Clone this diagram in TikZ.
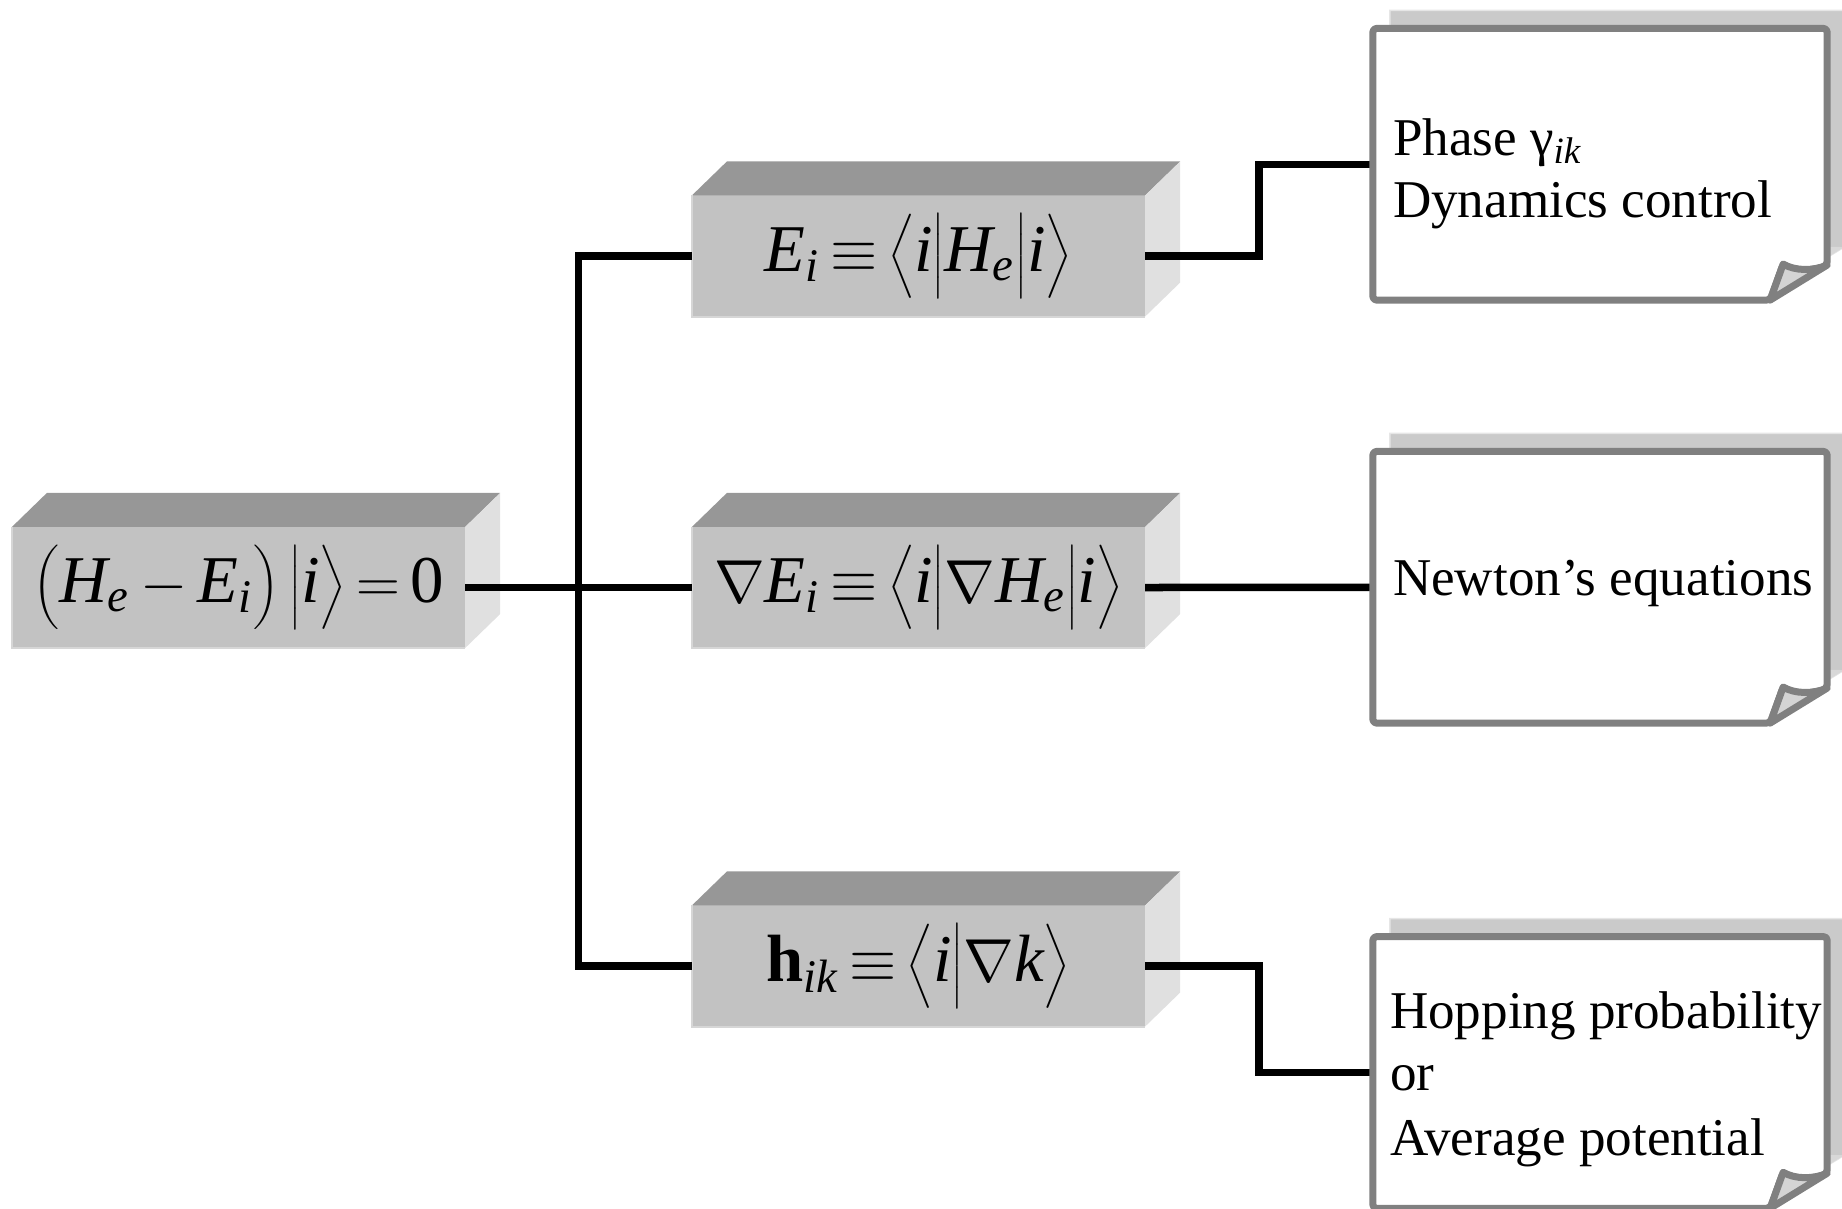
\documentclass[tikz,border=0pt]{standalone}
\usepackage{fontspec}
\setmainfont{Liberation Serif}
\usetikzlibrary{calc}

% italic letters in formulas come from the serif text font
\newcommand\mvar[1]{\mathit{#1}}
% delimiter one size up from the running math size
\newcommand\tall[1]{\hbox{$\left#1\vcenter to 1.25em{}\right.\nulldelimiterspace=0pt$}}
% size and tighter operator spacing for the slab formulas
\newcommand\slabfont{\fontsize{19}{23}\selectfont\thickmuskip=3mu\relax\medmuskip=3mu\relax}

\definecolor{slabfront}{HTML}{C2C2C2}
\definecolor{slabtop}{HTML}{979797}
\definecolor{slabside}{HTML}{E0E0E0}
\definecolor{slabedge}{HTML}{D6D6D6}
\definecolor{sheetline}{HTML}{808080}
\definecolor{backfill}{HTML}{CACACA}
\definecolor{backline}{HTML}{E6E6E6}
\definecolor{flapfill}{HTML}{D4D4D4}

\begin{document}
\begin{tikzpicture}[x=0.01cm, y=-0.01cm,
  slab/.style={rectangle, fill=slabfront, minimum width=4.53cm, minimum height=1.21cm,
    inner sep=0pt, outer sep=0pt, font=\slabfont},
  topface/.style={fill=slabtop},
  sideface/.style={fill=slabside},
  slabrim/.style={draw=slabedge, line width=0.02cm},
  note/.style={rectangle, minimum width=4.54cm, minimum height=2.715cm,
    inner sep=0pt, outer sep=0pt},
  sheet/.style={draw=sheetline, fill=white, line width=0.07cm, line join=round, rounded corners=1pt},
  flap/.style={draw=sheetline, fill=flapfill, line width=0.07cm, line join=round},
  backsheet/.style={draw=backline, fill=backfill, line width=0.015cm},
  backflap/.style={fill=flapfill!90!white},
  wire/.style={line width=0.075cm, black, line join=miter},
  notetxt/.style={anchor=base west, inner sep=0pt, outer sep=0pt,
    font=\fontsize{15.1}{18}\selectfont}]

\useasboundingbox (0,0) rectangle (1842,1208);
\begin{scope}
\clip (0,0) rectangle (1842,1208);

% front faces of the four slabs
\node[slab] (src)  at (238.5,587.5)
  {$\mathopen{\tall(}\mvar{H}_{\mvar{e}} - \mvar{E}_{\mvar{i}}\mathclose{\tall)}\,\mathopen{\tall|}\mvar{i}\mathclose{\tall\rangle} = \mathrm{0}$\hspace{0.23cm}};
\node[slab] (en)   at (918.5,256)
  {$\mvar{E}_{\mvar{i}} \equiv \mathopen{\tall\langle}\mvar{i}\tall|\mvar{H}_{\mvar{e}}\tall|\mvar{i}\mathclose{\tall\rangle}$};
\node[slab] (grad) at (918.5,587.5)
  {$\nabla \mvar{E}_{\mvar{i}} \equiv \mathopen{\tall\langle}\mvar{i}\tall|\nabla \mvar{H}_{\mvar{e}}\tall|\mvar{i}\mathclose{\tall\rangle}$};
\node[slab] (nac)  at (918.5,966)
  {$\mathbf{h}_{\mvar{ik}} \equiv \mathopen{\tall\langle}\mvar{i}\tall|\nabla \mvar{k}\mathclose{\tall\rangle}$};

% top and side faces
\foreach \b in {src,en,grad,nac}{
  \fill[topface] (\b.north west) -- ++(35,-34) -- ($(\b.north east)+(35,-34)$) -- (\b.north east) -- cycle;
  \fill[sideface] (\b.north east) -- ++(35,-34) -- ($(\b.south east)+(35,-34)$) -- (\b.south east) -- cycle;
  \draw[slabrim] (\b.north west) -- (\b.south west) -- (\b.south east);
}

% note sheets (placed as nodes, outlines drawn below)
\node[note] (phase)  at (1600,164.25) {};
\node[note] (newton) at (1600,587.25) {};
\node[note] (hop)    at (1600,1072.45) {};

% connectors
\coordinate (split) at ($(src.east)!0.5!(grad.west)$);
\draw[wire] (src.east) -- (grad.west);
\draw[wire] (en.west) -| (split) |- (nac.west);
\draw[wire] (en.east) -| ($(en.east)!0.5!(phase.west)$) |- (phase.west);
\draw[wire] (grad.east) -- (newton.west);
\draw[wire] (nac.east) -| ($(nac.east)!0.5!(hop.west)$) |- (hop.west);

% sheets with a curled corner, each with a second sheet behind it
\foreach \n in {phase,newton,hop}{
  \filldraw[backsheet] ($(\n.north west)+(17,-18)$) -- ($(\n.north east)+(17,-18)$)
    -- ($(\n.south east)+(17,-53)$) -- ($(\n.south east)+(-40,-18)$)
    -- ($(\n.south west)+(17,-18)$) -- cycle;
  \fill[backflap] ($(\n.south east)+(17,-53)$) -- ($(\n.south east)+(-27,-54)$)
    -- ($(\n.south east)+(-40,-18)$) -- cycle;
  \filldraw[sheet] (\n.north west) -- (\n.north east) -- ($(\n.south east)+(0,-35)$)
    .. controls ($(\n.south east)+(-14,-29)$) and ($(\n.south east)+(-32,-29)$)
    .. ($(\n.south east)+(-44,-36)$) -- ($(\n.south east)+(-57,0)$)
    -- (\n.south west) -- cycle;
  \filldraw[flap] ($(\n.south east)+(0,-35)$)
    .. controls ($(\n.south east)+(-14,-29)$) and ($(\n.south east)+(-32,-29)$)
    .. ($(\n.south east)+(-44,-36)$) -- ($(\n.south east)+(-57,0)$) -- cycle;
}

% sheet texts
\node[notetxt] (phaseA) at (1393,155)  {Phase γ$_{\mvar{ik}}$};
\node[notetxt] (phaseB) at (1393,217)  {Dynamics control};
\node[notetxt] (newtonA) at (1393,595) {Newton’s equations};
\node[notetxt] (hopA) at (1390,1028)   {Hopping probability};
\node[notetxt] (hopB) at (1390,1090)   {or};
\node[notetxt] (hopC) at (1390,1155)   {Average potential};
\end{scope}
\end{tikzpicture}
\end{document}
